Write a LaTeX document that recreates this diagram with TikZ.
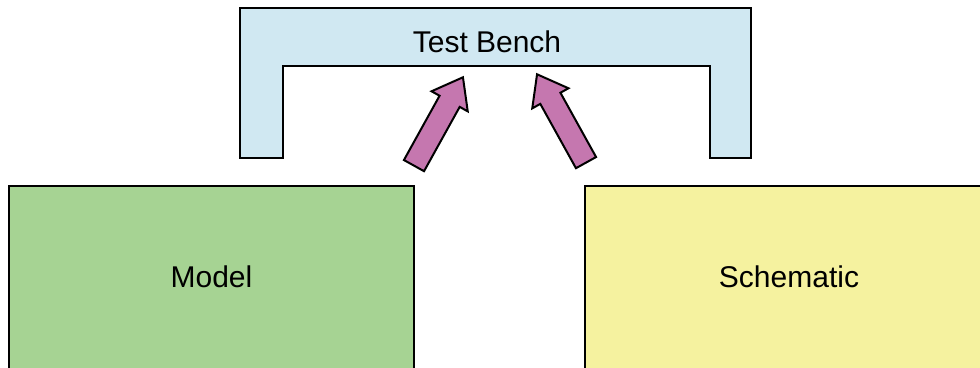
\documentclass[tikz,border=0pt]{standalone}
\usepackage{fontspec}
\setmainfont{Liberation Sans}
\usetikzlibrary{shapes.arrows}
\definecolor{tbblue}{HTML}{D0E8F2}
\definecolor{mgreen}{HTML}{A6D393}
\definecolor{syellow}{HTML}{F5F29F}
\definecolor{apurple}{HTML}{C577AF}
\tikzset{
  boxline/.style={draw=black, line width=1.5pt, line join=miter},
  lbl/.style={font=\fontsize{30}{34}\selectfont, inner sep=0pt, anchor=base},
  blockarrow/.style={single arrow, draw=black, fill=apurple, line width=2pt,
    line join=miter, inner xsep=0pt, inner ysep=10.5pt, minimum height=101pt,
    single arrow head extend=9.2pt, single arrow tip angle=74, anchor=tail},
}
\begin{document}
\begin{tikzpicture}[x=1pt,y=1pt]
\useasboundingbox (0,0) rectangle (980,367);
\clip (0,0) rectangle (980,367);
% Test Bench frame
\draw[boxline, fill=tbblue] (240,359) -- (751,359) -- (751,209) -- (710,209)
  -- (710,301) -- (283,301) -- (283,209) -- (240,209) -- cycle;
\node[lbl] (tb) at (487,314) {Test Bench};
% Model and Schematic
\draw[boxline, fill=mgreen] (9,-5) rectangle (414,181);
\node[lbl] (model) at (211.5,79) {Model};
\draw[boxline, fill=syellow] (585,-5) rectangle (993,181);
\node[lbl] (schem) at (789,79) {Schematic};
% arrows
\coordinate (lt) at (413.5,200.5);
\coordinate (rt) at (586.5,203.5);
\node[blockarrow, rotate=61] (al) at (lt) {};
\node[blockarrow, rotate=119] (ar) at (rt) {};
\end{tikzpicture}
\end{document}
